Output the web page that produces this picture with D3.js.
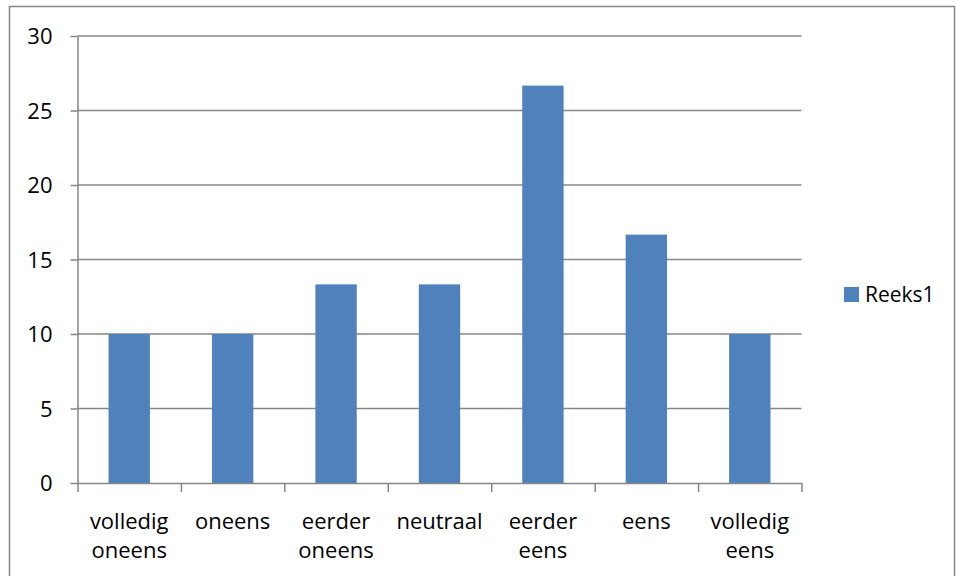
<!DOCTYPE html>
<html>
<head>
<meta charset="utf-8">
<script src="https://cdn.jsdelivr.net/npm/d3@7"></script>
<style>
  body { margin: 0; background: #fff; }
  text { font-family: "Open Sans", "Noto Sans", sans-serif; fill: #000; }
</style>
</head>
<body>
<div id="wrapper"></div>
<script>
// data
const categories = [
  ["volledig", "oneens"],
  ["oneens"],
  ["eerder", "oneens"],
  ["neutraal"],
  ["eerder", "eens"],
  ["eens"],
  ["volledig", "eens"],
];
const reeks1 = [10, 10, 13.33, 13.33, 26.67, 16.67, 10];
const yTicks = [0, 5, 10, 15, 20, 25, 30];
const seriesName = "Reeks1";

const width = 956, height = 576;
const plot = { left: 77.5, right: 801.5, top: 36, bottom: 483 };

const svg = d3.select("#wrapper").append("svg")
  .attr("width", width)
  .attr("height", height);

// outer chart frame
svg.append("rect")
  .attr("x", 9.5).attr("y", 6.5)
  .attr("width", 945).attr("height", 580)
  .attr("fill", "none")
  .attr("stroke", "#868686")
  .attr("stroke-width", 1.5);

const xScale = d3.scaleBand()
  .domain(d3.range(categories.length))
  .range([plot.left, plot.right])
  .paddingInner(0.6)
  .paddingOuter(0.3);

const xEdges = d3.scaleLinear()
  .domain([0, categories.length])
  .range([plot.left, plot.right]);

const yScale = d3.scaleLinear()
  .domain([0, 30])
  .range([plot.bottom, plot.top]);

// gridlines + y ticks
const yAxis = svg.append("g")
  .attr("transform", `translate(${plot.left},0)`)
  .call(d3.axisLeft(yScale).tickValues(yTicks).tickSize(7).tickPadding(18)
    .tickSizeOuter(0));
yAxis.select(".domain").attr("stroke", "#868686").attr("stroke-width", 1.5);
yAxis.selectAll(".tick line").attr("stroke", "#868686").attr("stroke-width", 1.5);
yAxis.selectAll(".tick text").style("font-size", "22px").attr("dy", "0.35em");

svg.append("g").selectAll("line")
  .data(yTicks.filter(d => d > 0))
  .join("line")
    .attr("x1", plot.left).attr("x2", plot.right)
    .attr("y1", d => yScale(d)).attr("y2", d => yScale(d))
    .attr("stroke", "#868686")
    .attr("stroke-width", 1.5);

// bars
svg.append("g").selectAll("rect")
  .data(reeks1)
  .join("rect")
    .attr("x", (d, i) => xScale(i))
    .attr("y", d => yScale(d))
    .attr("width", xScale.bandwidth())
    .attr("height", d => yScale(0) - yScale(d))
    .attr("fill", "#4F81BD");

// x axis
const xAxis = svg.append("g")
  .attr("transform", `translate(0,${plot.bottom})`)
  .call(d3.axisBottom(xEdges).ticks(categories.length).tickSize(9).tickFormat("").tickSizeOuter(0));
xAxis.select(".domain").attr("stroke", "#868686").attr("stroke-width", 1.5);
xAxis.selectAll(".tick line").attr("stroke", "#868686").attr("stroke-width", 1.5);

const labels = svg.append("g").selectAll("text")
  .data(categories)
  .join("text")
    .attr("text-anchor", "middle")
    .attr("x", (d, i) => xScale(i) + xScale.bandwidth() / 2)
    .attr("y", 529)
    .style("font-size", "22px");
labels.selectAll("tspan")
  .data(d => d)
  .join("tspan")
    .attr("x", function() { return this.parentNode.getAttribute("x"); })
    .attr("dy", (d, i) => i === 0 ? 0 : 29)
    .text(d => d);

// legend
const legend = svg.append("g").attr("transform", "translate(844,287)");
legend.append("rect")
  .attr("width", 15).attr("height", 15)
  .attr("fill", "#4F81BD");
legend.append("text")
  .attr("x", 21).attr("y", 7.5).attr("dy", "0.35em")
  .style("font-size", "21px")
  .text(seriesName);
</script>
</body>
</html>
